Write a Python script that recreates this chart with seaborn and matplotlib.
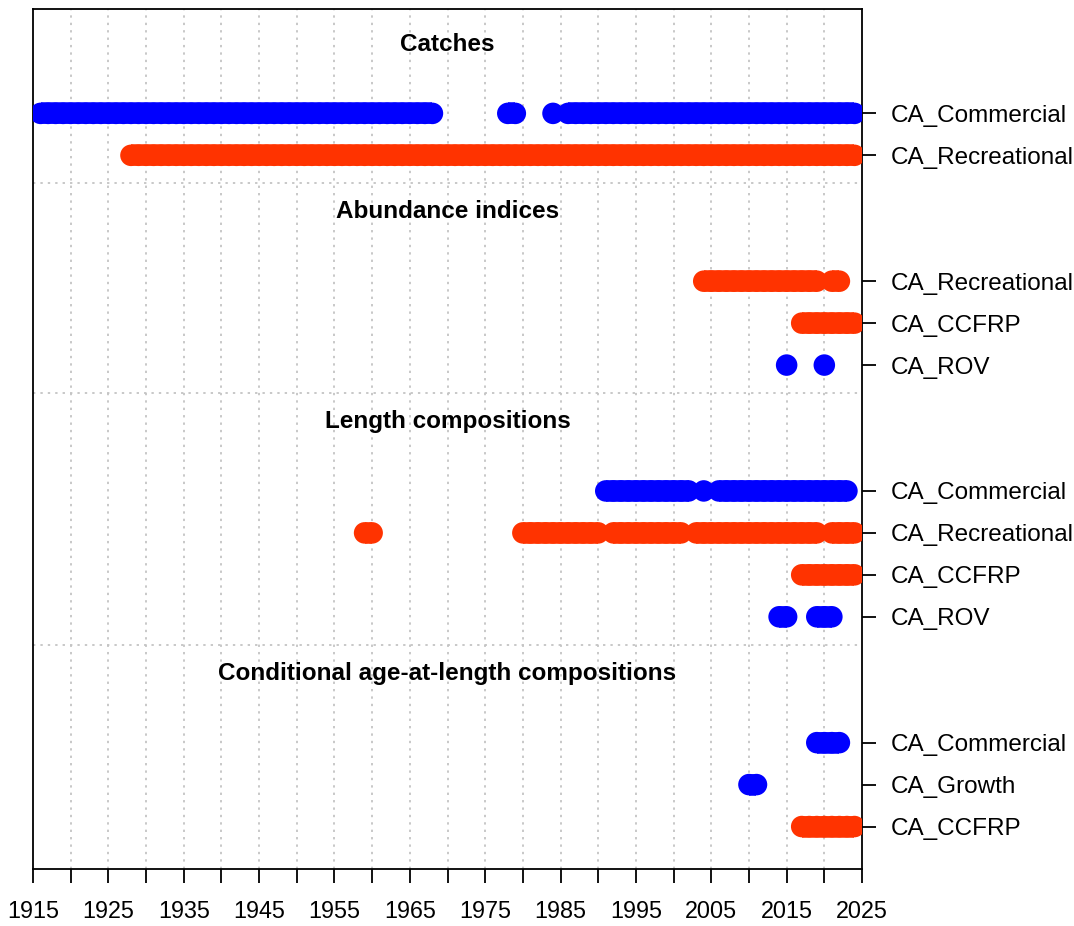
import matplotlib
matplotlib.use("Agg")
import matplotlib.pyplot as plt
import seaborn as sns
import pandas as pd
from matplotlib.ticker import MultipleLocator, FuncFormatter

# ---- data: years with data, given as (first, last) runs per fleet ----
catch_commercial = [(1916, 1968), (1978, 1979), (1984, 1984), (1986, 2024)]
catch_recreational = [(1928, 2024)]

index_recreational = [(2004, 2019), (2021, 2022)]
index_ccfrp = [(2017, 2024)]
index_rov = [(2015, 2015), (2020, 2020)]

len_commercial = [(1991, 2002), (2004, 2004), (2006, 2023)]
len_recreational = [(1959, 1960), (1980, 1990), (1992, 2001), (2003, 2019), (2021, 2024)]
len_ccfrp = [(2017, 2024)]
len_rov = [(2014, 2015), (2019, 2021)]

caal_commercial = [(2019, 2022)]
caal_growth = [(2010, 2011)]
caal_ccfrp = [(2017, 2024)]

group_titles = ["Catches", "Abundance indices", "Length compositions",
                "Conditional age-at-length compositions"]

# rows: (group, fleet label, colour key, runs, row position)
rows = [
    (0, "CA_Commercial", "blue", catch_commercial, 18),
    (0, "CA_Recreational", "red", catch_recreational, 17),
    (1, "CA_Recreational", "red", index_recreational, 14),
    (1, "CA_CCFRP", "red", index_ccfrp, 13),
    (1, "CA_ROV", "blue", index_rov, 12),
    (2, "CA_Commercial", "blue", len_commercial, 9),
    (2, "CA_Recreational", "red", len_recreational, 8),
    (2, "CA_CCFRP", "red", len_ccfrp, 7),
    (2, "CA_ROV", "blue", len_rov, 6),
    (3, "CA_Commercial", "blue", caal_commercial, 3),
    (3, "CA_Growth", "blue", caal_growth, 2),
    (3, "CA_CCFRP", "red", caal_ccfrp, 1),
]
group_top_row = [18, 14, 9, 3]

palette = {"blue": "#0000FF", "red": "#FF3300"}

records = []
run_id = 0
for grp, label, col, runs, ypos in rows:
    for first, last in runs:
        for yr in range(first, last + 1):
            records.append({"year": yr, "ypos": ypos, "colour": col, "run": run_id})
        run_id += 1
df = pd.DataFrame(records)

sns.set_style("white")
plt.rcParams["font.family"] = ["Liberation Sans", "DejaVu Sans"]

fig = plt.figure(figsize=(10.74, 9.26), dpi=100)
ax = fig.add_axes([33 / 1074, 1 - 868.5 / 926, (862 - 33) / 1074, (868.5 - 8.5) / 926])

XMIN, XMAX = 1915, 2025
YMIN, YMAX = 0.0, 20.5
ax.set_xlim(XMIN, XMAX)
ax.set_ylim(YMIN, YMAX)

# vertical dotted grid every 5 years
grid_style = dict(color="#C4C4C4", linewidth=1.3, linestyle=(0, (1.3, 2.8)), zorder=0)
for gx in range(1920, 2025, 5):
    ax.axvline(gx, **grid_style)

# separators between data groups and group titles
for top in group_top_row[1:]:
    ax.axhline(top + 2.33, **grid_style)
for title, top in zip(group_titles, group_top_row):
    ax.text((XMIN + XMAX) / 2, top + 1.65, title, ha="center", va="center",
            fontsize=17.5, fontweight="bold", color="black")

# connected runs of consecutive years, plus a point for every year
sns.lineplot(data=df, x="year", y="ypos", hue="colour", units="run",
             estimator=None, palette=palette, linewidth=15.5, sort=True,
             legend=False, ax=ax, solid_capstyle="butt", zorder=3)
sns.scatterplot(data=df, x="year", y="ypos", hue="colour", palette=palette,
                s=15.5 ** 2, linewidth=0, legend=False, ax=ax, zorder=4)

# axes: box, x ticks every 5 years labelled every 10, fleet labels on the right
for side in ["left", "right", "top", "bottom"]:
    ax.spines[side].set_visible(True)
    ax.spines[side].set_color("black")
    ax.spines[side].set_linewidth(1.3)

ax.xaxis.set_major_locator(MultipleLocator(5))
ax.xaxis.set_major_formatter(
    FuncFormatter(lambda v, p: f"{int(round(v))}" if int(round(v - 1915)) % 10 == 0 else ""))
ax.tick_params(axis="x", direction="out", length=10, width=1.3, pad=13,
               labelsize=16.8, bottom=True, colors="black")

ax.yaxis.tick_right()
ax.set_yticks([r[4] for r in rows])
ax.set_yticklabels([r[1] for r in rows])
ax.tick_params(axis="y", direction="out", length=10, width=1.3, pad=11,
               labelsize=17.5, right=True, left=False, colors="black")

ax.set_xlabel("")
ax.set_ylabel("")
ax.grid(False)

fig.savefig("out.png", dpi=100)
